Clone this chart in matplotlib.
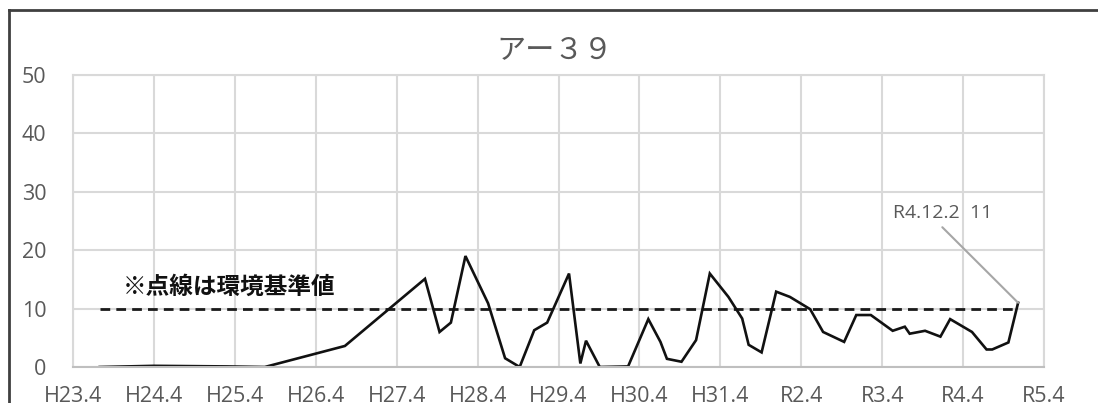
import matplotlib
matplotlib.use("Agg")
import matplotlib.pyplot as plt
from matplotlib.lines import Line2D

plt.rcParams['font.family'] = ['Open Sans', 'Noto Sans CJK JP', 'DejaVu Sans']

# x: years elapsed since H23.4 (April 2011), y: measured value
years = [0.33, 1.0, 1.9, 2.37, 3.36, 4.35, 4.53, 4.67, 4.85, 5.13, 5.34, 5.52,
         5.70, 5.86, 6.13, 6.27, 6.34, 6.51, 6.86, 7.11, 7.26, 7.34, 7.52, 7.70,
         7.87, 8.10, 8.27, 8.35, 8.51, 8.69, 8.86, 9.11, 9.27, 9.53, 9.68, 9.86,
         10.13, 10.28, 10.34, 10.53, 10.72, 10.84, 11.11, 11.29, 11.36, 11.56, 11.68]
values = [0.0, 0.2, 0.1, 0.0, 3.6, 15.1, 6.0, 7.6, 19.0, 10.9, 1.5, 0.0,
          6.3, 7.6, 16.0, 0.6, 4.5, 0.0, 0.1, 8.2, 4.3, 1.4, 0.9, 4.6,
          16.0, 12.0, 8.3, 3.8, 2.5, 12.9, 12.0, 9.9, 6.0, 4.3, 8.9, 8.9,
          6.2, 6.9, 5.7, 6.2, 5.2, 8.2, 6.0, 3.0, 3.0, 4.2, 11.0]
standard = 10
tick_labels = ["H23.4", "H24.4", "H25.4", "H26.4", "H27.4", "H28.4", "H29.4",
               "H30.4", "H31.4", "R2.4", "R3.4", "R4.4", "R5.4"]
y_ticks = [0, 10, 20, 30, 40, 50]
title = "アー３９"
note = "※点線は環境基準値"
annot = "R4.12.2  11"

W, H = 1098, 403
fig = plt.figure(figsize=(W / 100, H / 100), dpi=100)
ax = fig.add_axes([73 / W, 1 - 367 / H, (1044 - 73) / W, (367 - 75) / H])

grid_c = "#d9d9d9"
text_c = "#595959"

ax.set_xlim(0, len(tick_labels) - 1)
ax.set_ylim(0, 50)
ax.set_xticks(range(len(tick_labels)))
ax.set_xticklabels(tick_labels)
ax.set_yticks(y_ticks)
ax.grid(True, color=grid_c, linewidth=1.5)
ax.set_axisbelow(True)
for s in ["top", "right", "left"]:
    ax.spines[s].set_color(grid_c)
    ax.spines[s].set_linewidth(1.5)
ax.spines["bottom"].set_color("#bfbfbf")
ax.spines["bottom"].set_linewidth(1.5)
ax.tick_params(axis="both", length=0, labelcolor=text_c, labelsize=15.5)
ax.tick_params(axis="y", pad=19)
ax.tick_params(axis="x", pad=14)

ax.plot([years[0], years[-1]], [standard, standard], color="#1a1a1a",
        linestyle=(0, (3.5, 2.2)), linewidth=2)
ax.plot(years, values, color="#111111", linewidth=1.9, solid_joinstyle="miter")

ax.text(0.62, 13.7, note, fontsize=17, fontweight="bold", color="#111111",
        family=["Noto Sans CJK JP"], va="center", ha="left")

ax.annotate(annot, xy=(years[-1], values[-1]), xytext=(10.13, 26.4),
            textcoords="data", fontsize=14, color=text_c, ha="left", va="center",
            arrowprops=dict(arrowstyle="-", color="#a6a6a6", linewidth=1.5,
                            shrinkA=0, shrinkB=0, relpos=(0.5, -0.3)))

fig.text(555 / W, 1 - 50 / H, title, fontsize=21, color=text_c,
         family=["Noto Sans CJK JP"], ha="center", va="center")

fig.add_artist(Line2D([9 / W, 9 / W], [0, 1 - 10 / H], transform=fig.transFigure,
                      color="#404040", linewidth=2))
fig.add_artist(Line2D([9 / W, 1], [1 - 10 / H, 1 - 10 / H], transform=fig.transFigure,
                      color="#404040", linewidth=2))

fig.savefig("out.png", dpi=100)
